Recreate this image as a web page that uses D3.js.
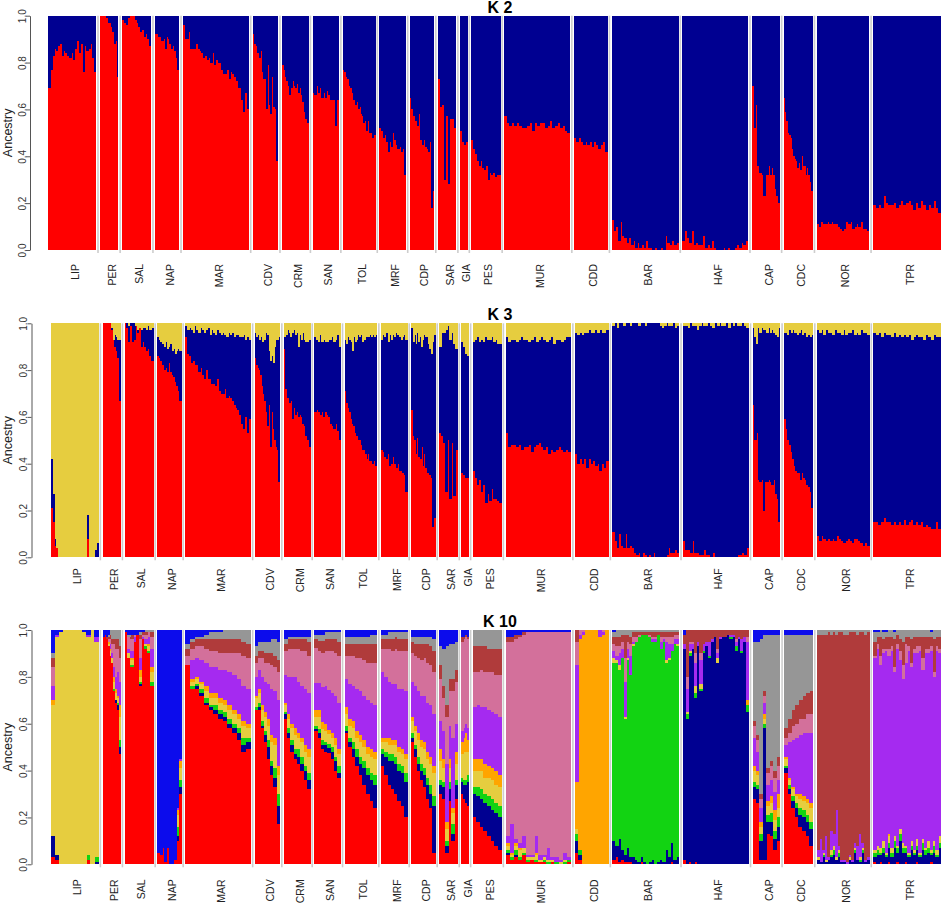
<!DOCTYPE html>
<html>
<head>
<meta charset="utf-8">
<script src="https://d3js.org/d3.v7.min.js"></script>
<style>
body { margin: 0; background: #fff; }
text { font-family: "Liberation Sans", Arial, Helvetica, sans-serif; }
</style>
</head>
<body>
<div id="chart"></div>
<script>
// populations and their sample sizes (number of individuals)
var pops = ["LIP","PER","SAL","NAP","MAR","CDV","CRM","SAN","TOL","MRF","CDP","SAR","GIA","PES","MUR","CDD","BAR","HAF","CAP","CDC","NOR","TPR"];
var popSize = [40,15,24,20,55,21,22,22,27,22,20,15,6,24,55,28,56,55,23,24,44,57];
var yTicks = [0, 0.2, 0.4, 0.6, 0.8, 1];

// K = 2 : share of the red cluster per individual (rest is the dark blue cluster)
var k2Red = [
  [0.69,0.77,0.83,0.86,0.85,0.87,0.88,0.83,0.85,0.84,0.83,0.82,0.84,0.81,0.86,0.89,0.84,0.88,0.76,0.87,0.85,0.86,0.88,0.82,0.76],
  [1,1,1,1,0.99,0.97,0.97,0.95,0.93,0.88,0.89,0.74],
  [0.98,0.97,0.96,0.99,1,1,1,0.98,0.97,0.95,0.93,0.94,0.91,0.92,0.9,0.87],
  [0.92,0.92,0.91,0.91,0.89,0.9,0.86,0.91,0.9,0.88,0.86,0.87,0.85,0.82,0.77],
  [0.96,0.9,0.9,0.93,0.86,0.86,0.86,0.88,0.86,0.85,0.84,0.82,0.83,0.81,0.82,0.8,0.84,0.79,0.81,0.8,0.8,0.77,0.75,0.75,0.77,0.73,0.76,0.75,0.74,0.72,0.69,0.69,0.64,0.59,0.67,0.6],
  [0.92,0.88,0.87,0.84,0.82,0.85,0.76,0.73,0.73,0.6,0.79,0.62,0.58,0.74,0.61,0.6,0.38],
  [0.79,0.77,0.74,0.72,0.7,0.66,0.69,0.72,0.7,0.69,0.71,0.67,0.69,0.66,0.63,0.59,0.56,0.54],
  [0.67,0.66,0.7,0.67,0.69,0.65,0.67,0.65,0.68,0.66,0.64,0.64,0.64,0.53,0.64],
  [0.77,0.76,0.74,0.73,0.7,0.69,0.67,0.64,0.62,0.63,0.6,0.61,0.58,0.57,0.54,0.55,0.51,0.55,0.5,0.5,0.48,0.49],
  [0.52,0.51,0.48,0.49,0.46,0.42,0.46,0.44,0.5,0.47,0.45,0.43,0.44,0.42,0.43,0.32],
  [0.65,0.6,0.57,0.6,0.55,0.53,0.58,0.47,0.52,0.45,0.47,0.44,0.43,0.42,0.46,0.18,0.25],
  [0.73,0.61,0.62,0.3,0.57,0.28,0.56,0.56,0.52],
  [0.51,0.46,0.45,0.46],
  [0.47,0.43,0.41,0.38,0.36,0.38,0.35,0.34,0.36,0.3,0.33,0.32,0.33,0.31,0.32,0.32],
  [0.57,0.54,0.53,0.54,0.53,0.54,0.53,0.52,0.52,0.53,0.54,0.51,0.54,0.53,0.54,0.54,0.52,0.53,0.55,0.52,0.53,0.54,0.52,0.53,0.51,0.5],
  [0.48,0.46,0.48,0.46,0.45,0.46,0.45,0.46,0.44,0.46,0.45,0.43,0.45,0.46,0.42],
  [0.13,0.08,0.1,0.04,0.12,0.06,0.05,0.03,0.05,0.02,0.04,0.01,0.03,0.01,0.02,0.01,0.04,0.01,0.01,0,0.01,0,0,0.01,0,0.06,0.03,0.02,0.04,0.02,0.03],
  [0.04,0.08,0.05,0.03,0.08,0.02,0.03,0.02,0.02,0.06,0.01,0.02,0.01,0.04,0.01,0,0,0,0.01,0,0.01,0,0,0.01,0.02,0.01,0.03,0.02,0.04],
  [0.7,0.52,0.62,0.36,0.33,0.33,0.32,0.23,0.32,0.32,0.36,0.32,0.35,0.32,0.26,0.23,0.2],
  [0.65,0.59,0.55,0.5,0.49,0.48,0.43,0.4,0.39,0.38,0.35,0.37,0.34,0.4,0.36,0.36,0.32,0.35,0.32,0.29,0.25],
  [0.11,0.1,0.12,0.11,0.11,0.12,0.11,0.12,0.11,0.11,0.1,0.09,0.08,0.09,0.12,0.11,0.12,0.09,0.1,0.11,0.1,0.12,0.09,0.09,0.08],
  [0.19,0.18,0.19,0.18,0.23,0.2,0.19,0.19,0.2,0.18,0.19,0.21,0.19,0.2,0.21,0.19,0.17,0.2,0.18,0.21,0.19,0.17,0.19,0.18,0.21,0.18,0.16]
];

// K = 3 : red share, and red + blue (top of the blue part); yellow fills the rest
var k3Red = [
  [0.21,0.15,0.05,0.04,0,0,0,0,0,0,0,0,0,0,0,0,0,0,0,0.08,0,0,0,0,0],
  [1,1,1,1,1,1,0.97,0.93,0.9,0.88,0.85,0.67],
  [1,0.98,0.92,0.99,0.92,0.93,0.99,0.96,0.98,0.9,0.92,0.9,0.88,0.89,0.86,0.84],
  [0.86,0.85,0.84,0.82,0.8,0.81,0.79,0.83,0.79,0.78,0.77,0.75,0.73,0.71,0.67],
  [0.94,0.87,0.86,0.83,0.84,0.82,0.82,0.79,0.81,0.78,0.76,0.8,0.76,0.76,0.74,0.74,0.73,0.76,0.71,0.7,0.7,0.72,0.68,0.69,0.68,0.67,0.65,0.64,0.63,0.61,0.57,0.55,0.6,0.53,0.59],
  [0.85,0.82,0.81,0.8,0.78,0.73,0.7,0.67,0.62,0.56,0.65,0.47,0.62,0.55,0.5,0.47,0.46,0.32],
  [0.89,0.72,0.68,0.66,0.67,0.59,0.64,0.61,0.62,0.6,0.61,0.6,0.57,0.56,0.52,0.5,0.47],
  [0.62,0.63,0.62,0.61,0.62,0.6,0.62,0.61,0.6,0.57,0.56,0.55,0.57,0.54,0.5],
  [0.71,0.66,0.64,0.62,0.59,0.57,0.56,0.53,0.52,0.5,0.5,0.48,0.46,0.46,0.44,0.42,0.44,0.41,0.41,0.4,0.41,0.39],
  [0.46,0.45,0.43,0.42,0.44,0.39,0.4,0.43,0.4,0.38,0.4,0.37,0.37,0.36,0.35,0.28],
  [0.63,0.52,0.5,0.44,0.51,0.43,0.42,0.47,0.39,0.44,0.38,0.36,0.37,0.35,0.34,0.13,0.17],
  [0.53,0.52,0.49,0.28,0.5,0.25,0.49,0.26,0.46],
  [0.36,0.35,0.34,0.34],
  [0.37,0.34,0.31,0.33,0.28,0.31,0.23,0.27,0.24,0.29,0.25,0.25,0.24,0.23],
  [0.53,0.47,0.48,0.48,0.47,0.48,0.46,0.47,0.47,0.48,0.45,0.47,0.48,0.49,0.47,0.46,0.47,0.44,0.46,0.45,0.46,0.47,0.46,0.45,0.46,0.45],
  [0.44,0.4,0.42,0.4,0.42,0.38,0.42,0.4,0.41,0.39,0.4,0.37,0.4,0.38,0.41],
  [0.11,0.07,0.04,0.1,0.05,0.04,0.1,0.04,0.05,0.04,0.02,0.01,0.02,0,0.02,0.01,0,0.01,0,0.02,0,0,0,0,0,0.01,0.04,0.02,0.02,0.03,0.02],
  [0.07,0.03,0.03,0.02,0.07,0.02,0.02,0.01,0.01,0.03,0.01,0.01,0,0.02,0,0,0,0,0,0,0,0,0,0,0.01,0.01,0.02,0.01,0.04],
  [0.65,0.5,0.53,0.33,0.32,0.33,0.2,0.32,0.32,0.33,0.32,0.31,0.33,0.27,0.25,0.15],
  [0.59,0.55,0.5,0.48,0.45,0.42,0.39,0.37,0.36,0.36,0.33,0.36,0.34,0.33,0.31,0.3,0.28,0.21],
  [0.09,0.07,0.09,0.08,0.07,0.08,0.07,0.08,0.07,0.09,0.08,0.07,0.06,0.07,0.08,0.07,0.06,0.08,0.08,0.07,0.06,0.05,0.06,0.05],
  [0.15,0.15,0.14,0.15,0.17,0.15,0.15,0.14,0.15,0.14,0.15,0.14,0.16,0.14,0.15,0.16,0.14,0.15,0.14,0.15,0.13,0.14,0.13,0.12,0.12,0.15,0.12]
];
var k3Top = [
  [0.42,0.27,0.08,0.04,0,0,0,0,0,0,0,0,0,0,0,0,0,0,0,0.18,0,0,0,0.03,0.06],
  [1,1,1,1,1,1,0.98,0.93,0.95,0.94,0.93,0.93],
  [1,1,0.99,1,1,1,0.99,0.97,0.98,0.97,0.98,0.98,0.97,0.99,0.97,0.98],
  [0.94,0.93,0.92,0.91,0.9,0.92,0.89,0.9,0.91,0.88,0.89,0.87,0.88,0.89,0.88],
  [0.99,0.97,0.98,0.97,0.96,0.99,0.97,0.96,0.98,0.97,0.96,0.97,0.98,0.95,0.97,0.96,0.95,0.97,0.96,0.95,0.96,0.95,0.94,0.96,0.95,0.96,0.94,0.95,0.95,0.94,0.94,0.95,0.93,0.94,0.93],
  [0.96,0.94,0.95,0.93,0.94,0.92,0.96,0.93,0.96,0.95,0.88,0.84,0.86,0.83,0.9,0.93,0.93,0.94],
  [0.94,0.95,0.97,0.96,0.94,0.96,0.97,0.95,0.96,0.9,0.95,0.93,0.96,0.93,0.92,0.92,0.93],
  [0.94,0.93,0.92,0.95,0.92,0.93,0.92,0.92,0.93,0.93,0.94,0.92,0.93,0.95,0.9],
  [0.93,0.91,0.94,0.93,0.92,0.88,0.94,0.92,0.93,0.95,0.94,0.95,0.92,0.93,0.94,0.94,0.94,0.95,0.94,0.95,0.94,0.95],
  [0.93,0.95,0.94,0.96,0.92,0.95,0.93,0.95,0.94,0.96,0.95,0.94,0.93,0.94,0.95,0.93],
  [0.98,0.92,0.95,0.91,0.96,0.92,0.94,0.9,0.93,0.95,0.94,0.94,0.91,0.89,0.87,0.92,0.95],
  [0.9,0.96,0.96,0.97,0.99,0.93,0.96,0.91,0.89],
  [0.92,0.9,0.87,0.86],
  [0.92,0.93,0.94,0.92,0.93,0.92,0.94,0.93,0.93,0.94,0.92,0.93,0.91,0.91],
  [0.94,0.92,0.93,0.93,0.92,0.93,0.94,0.93,0.93,0.92,0.93,0.94,0.92,0.93,0.94,0.93,0.92,0.93,0.94,0.91,0.93,0.93,0.92,0.93,0.94,0.94],
  [0.96,0.95,0.96,0.95,0.96,0.96,0.97,0.96,0.96,0.97,0.96,0.97,0.96,0.96,0.97],
  [0.99,1,0.98,1,1,0.99,1,1,0.99,1,1,1,0.99,1,1,0.99,1,1,1,1,1,1,0.99,0.98,0.99,1,0.99,0.99,1,0.98,0.99],
  [0.99,0.99,0.98,1,0.99,0.99,0.97,0.99,1,0.99,0.99,1,0.99,0.98,1,0.99,1,0.99,0.99,1,0.98,1,0.99,1,0.99,0.99,1,0.99,0.98],
  [0.98,0.94,0.91,0.98,0.96,0.98,0.97,0.97,0.96,0.98,0.96,0.97,0.96,0.95,0.94,0.98],
  [0.96,0.96,0.95,0.97,0.96,0.97,0.96,0.96,0.95,0.96,0.97,0.95,0.96,0.96,0.94,0.95,0.94,0.95],
  [0.97,0.96,0.97,0.95,0.97,0.96,0.96,0.95,0.97,0.96,0.96,0.95,0.97,0.95,0.96,0.96,0.97,0.95,0.96,0.95,0.97,0.96,0.96,0.95],
  [0.96,0.95,0.96,0.94,0.96,0.95,0.95,0.94,0.96,0.94,0.95,0.94,0.95,0.94,0.95,0.93,0.94,0.95,0.94,0.94,0.93,0.95,0.94,0.93,0.95,0.94,0.94]
];

// K = 10 : one row per individual, clusters in stacking order (bottom to top)
var k10Keys = ["red","navy","green","yellow","orange","purple","pink","brown","grey","blue"];
var k10Bars = [
  // LIP
  [[0.03,0.09,0,0.56,0.02,0.06,0.08,0.04,0.02,0.1],[0.02,0.02,0,0.93,0,0.01,0,0,0,0.02],[0,0,0,0.99,0,0,0,0,0,0.01],
   [0,0,0,1,0,0,0,0,0,0],[0,0,0,1,0,0,0,0,0,0],[0,0,0,1,0,0,0,0,0,0],[0,0,0,1,0,0,0,0,0,0],[0,0,0,1,0,0,0,0,0,0],
   [0,0,0,0.99,0,0,0,0,0,0.01],[0.02,0,0.02,0.93,0,0.01,0,0,0,0.02],[0,0,0,1,0,0,0,0,0,0],[0,0.01,0.02,0.92,0,0.02,0,0,0,0.03]],
  // PER
  [[0.97,0,0,0,0,0,0,0,0,0.03],[0.98,0,0,0,0,0,0,0,0,0.02],[0.96,0,0,0,0,0,0,0.01,0,0.03],[0.93,0,0,0.01,0.01,0,0.01,0.01,0.01,0.02],
   [0.89,0,0,0.02,0.01,0.02,0.02,0.02,0.02,0],[0.86,0,0,0.02,0,0.02,0.04,0.02,0.04,0],[0.74,0,0.01,0.03,0.02,0.04,0.1,0.02,0.04,0],
   [0.69,0.01,0,0.03,0.02,0.05,0.12,0.04,0.04,0],[0.66,0.02,0.01,0.02,0.01,0.1,0.1,0.04,0.04,0],[0.47,0.03,0.03,0.1,0.05,0.1,0.1,0.05,0.07,0]],
  // SAL
  [[0.99,0,0,0,0,0,0,0,0,0.01],[0.88,0,0,0.02,0,0.02,0.05,0,0.01,0.02],[0.84,0,0.01,0.02,0.01,0.03,0.05,0.02,0,0.02],
   [0.95,0,0,0,0,0.02,0.01,0,0,0.02],[0.98,0,0,0,0,0,0,0,0,0.02],[0.76,0.01,0.01,0.02,0.03,0.05,0.08,0.02,0.01,0.01],
   [0.96,0,0,0,0,0.01,0.01,0.01,0,0.01],[0.92,0,0.01,0.01,0,0.02,0.02,0.01,0.01,0],[0.9,0,0.01,0.02,0.01,0.03,0.02,0,0.01,0],
   [0.76,0,0.02,0.04,0.02,0.08,0.05,0.02,0.01,0]],
  // NAP
  [[0.05,0,0,0,0,0,0,0,0,0.95],[0.04,0,0,0,0,0,0,0,0,0.96],[0.07,0,0,0,0,0,0,0,0,0.93],[0.01,0,0,0,0,0,0,0,0,0.99],
   [0.07,0,0,0,0,0,0,0,0,0.93],[0,0,0,0,0,0,0,0,0,1],[0,0,0,0,0,0,0,0,0,1],[0.02,0,0,0,0,0,0,0,0,0.98],
   [0.1,0.02,0.04,0.05,0.02,0.01,0,0,0,0.76],[0.3,0.03,0.03,0.05,0.03,0.01,0,0,0,0.55]],
  // MAR
  [[0.85,0,0,0,0,0,0.04,0.03,0.02,0.06],[0.75,0,0.01,0.02,0.01,0.08,0.05,0.03,0.01,0.04],[0.75,0.01,0.01,0.02,0.01,0.08,0.05,0.03,0.01,0.03],
   [0.72,0.01,0.02,0.02,0.01,0.09,0.06,0.03,0.01,0.03],[0.68,0.01,0.02,0.03,0.02,0.1,0.06,0.04,0.02,0.02],[0.66,0.01,0.01,0.03,0.02,0.11,0.07,0.05,0.03,0.01],
   [0.64,0.02,0.02,0.03,0.02,0.11,0.07,0.05,0.03,0.01],[0.62,0.02,0.02,0.03,0.02,0.12,0.07,0.06,0.03,0.01],[0.61,0.02,0.02,0.03,0.02,0.13,0.07,0.06,0.04,0],
   [0.58,0.02,0.02,0.04,0.02,0.14,0.08,0.06,0.04,0],[0.56,0.02,0.02,0.04,0.02,0.15,0.09,0.06,0.04,0],[0.53,0.03,0.02,0.04,0.02,0.15,0.11,0.06,0.04,0],
   [0.48,0.03,0.03,0.05,0.02,0.15,0.13,0.06,0.05,0],[0.49,0.03,0.02,0.04,0.02,0.15,0.13,0.06,0.06,0]],
  // CDV
  [[0.66,0,0.01,0.04,0.01,0.08,0.06,0.03,0.04,0.07],[0.66,0.01,0.02,0.04,0.02,0.08,0.05,0.03,0.04,0.05],[0.58,0.01,0.02,0.05,0.02,0.12,0.08,0.03,0.04,0.05],
   [0.52,0.03,0.02,0.06,0.02,0.13,0.08,0.04,0.05,0.05],[0.45,0.05,0.03,0.06,0.03,0.15,0.09,0.04,0.05,0.05],[0.38,0.04,0.02,0.08,0.03,0.2,0.1,0.05,0.06,0.04],
   [0.33,0.04,0.04,0.1,0.03,0.2,0.1,0.05,0.07,0.04],[0.17,0.08,0.05,0.08,0.04,0.28,0.12,0.05,0.08,0.05]],
  // CRM
  [[0.62,0.02,0.01,0.03,0.01,0.12,0.1,0.03,0.02,0.04],[0.54,0.02,0.02,0.04,0.02,0.16,0.12,0.04,0.01,0.03],[0.48,0.03,0.02,0.05,0.02,0.2,0.12,0.04,0.01,0.03],
   [0.45,0.02,0.02,0.06,0.03,0.22,0.12,0.04,0.01,0.03],[0.43,0.03,0.03,0.05,0.02,0.22,0.14,0.04,0.01,0.03],[0.4,0.03,0.03,0.06,0.02,0.22,0.15,0.05,0.01,0.03],
   [0.36,0.04,0.02,0.06,0.03,0.24,0.16,0.05,0.01,0.03],[0.32,0.04,0.03,0.07,0.03,0.24,0.16,0.06,0.02,0.03]],
  // SAN
  [[0.58,0.01,0.01,0.04,0.03,0.12,0.15,0.04,0.02,0.02],[0.55,0.02,0.02,0.05,0.03,0.12,0.14,0.04,0.03,0.02],[0.5,0.02,0.02,0.05,0.03,0.15,0.15,0.05,0.03,0.02],
   [0.48,0.03,0.01,0.05,0.03,0.16,0.15,0.05,0.03,0.01],[0.48,0.02,0.02,0.04,0.02,0.17,0.17,0.05,0.03,0.01],[0.45,0.03,0.02,0.04,0.02,0.17,0.18,0.05,0.03,0.01],
   [0.4,0.04,0.02,0.05,0.03,0.18,0.18,0.06,0.03,0.01],[0.37,0.02,0.03,0.05,0.02,0.2,0.2,0.06,0.04,0.01]],
  // TOL
  [[0.56,0.01,0.02,0.05,0.03,0.12,0.1,0.05,0.03,0.03],[0.5,0.02,0.02,0.05,0.03,0.15,0.12,0.05,0.03,0.03],[0.46,0.03,0.03,0.06,0.03,0.15,0.13,0.05,0.03,0.03],
   [0.42,0.04,0.03,0.05,0.03,0.18,0.13,0.06,0.03,0.03],[0.38,0.05,0.03,0.06,0.03,0.19,0.14,0.06,0.03,0.03],[0.34,0.07,0.03,0.06,0.03,0.19,0.15,0.07,0.03,0.03],
   [0.3,0.08,0.03,0.06,0.03,0.2,0.16,0.08,0.03,0.03],[0.27,0.09,0.03,0.07,0.03,0.2,0.17,0.08,0.04,0.02],[0.24,0.1,0.04,0.07,0.03,0.2,0.18,0.08,0.04,0.02]],
  // MRF
  [[0.42,0.05,0.02,0.03,0.02,0.28,0.1,0.04,0.02,0.02],[0.38,0.08,0.02,0.04,0.02,0.26,0.12,0.04,0.02,0.02],[0.34,0.1,0.03,0.04,0.03,0.24,0.14,0.04,0.03,0.01],
   [0.32,0.12,0.03,0.04,0.02,0.24,0.14,0.05,0.03,0.01],[0.3,0.13,0.03,0.05,0.02,0.24,0.15,0.05,0.02,0.01],[0.27,0.13,0.03,0.05,0.02,0.25,0.16,0.05,0.03,0.01],
   [0.25,0.14,0.03,0.05,0.02,0.26,0.16,0.05,0.03,0.01],[0.2,0.15,0.04,0.06,0.02,0.27,0.17,0.05,0.03,0.01]],
  // CDP
  [[0.52,0.02,0.02,0.05,0.02,0.15,0.12,0.05,0.02,0.03],[0.46,0.03,0.02,0.06,0.02,0.17,0.13,0.05,0.03,0.03],[0.4,0.03,0.03,0.07,0.03,0.18,0.14,0.06,0.03,0.03],
   [0.36,0.04,0.03,0.07,0.03,0.19,0.15,0.07,0.03,0.03],[0.33,0.05,0.03,0.08,0.03,0.2,0.16,0.06,0.03,0.03],[0.28,0.06,0.03,0.08,0.03,0.21,0.17,0.08,0.03,0.03],
   [0.24,0.06,0.04,0.09,0.03,0.22,0.17,0.08,0.04,0.03],[0.05,0.2,0.04,0.1,0.03,0.22,0.18,0.09,0.05,0.04]],
  // SAR
  [[0.3,0.04,0.02,0.08,0.05,0.12,0.18,0.06,0.08,0.07],[0.28,0.05,0.02,0.06,0.04,0.12,0.14,0.05,0.16,0.08],[0.05,0.03,0.02,0.05,0.03,0.25,0.2,0.05,0.25,0.07],
   [0.27,0.05,0.03,0.06,0.04,0.14,0.15,0.05,0.15,0.06],[0.1,0.03,0.04,0.05,0.02,0.3,0.2,0.05,0.15,0.06],[0.28,0.06,0.02,0.07,0.05,0.12,0.18,0.05,0.12,0.05]],
  // GIA
  [[0.3,0.05,0.02,0.1,0.05,0.05,0.38,0.02,0,0.03],[0.28,0.06,0.02,0.12,0.06,0.04,0.38,0.01,0,0.03],[0.26,0.08,0.02,0.12,0.08,0.04,0.37,0.01,0,0.02],
   [0.25,0.1,0.03,0.1,0.05,0.05,0.38,0.01,0,0.03]],
  // PES
  [[0.2,0.1,0.03,0.07,0.05,0.22,0.15,0.11,0.07,0],[0.18,0.11,0.04,0.07,0.05,0.23,0.14,0.11,0.07,0],[0.16,0.12,0.04,0.08,0.05,0.22,0.16,0.1,0.07,0],
   [0.14,0.12,0.04,0.07,0.06,0.24,0.15,0.11,0.07,0],[0.12,0.13,0.04,0.08,0.05,0.24,0.16,0.1,0.08,0],[0.1,0.13,0.05,0.08,0.05,0.24,0.17,0.1,0.08,0],
   [0.08,0.14,0.04,0.08,0.06,0.24,0.17,0.11,0.08,0],[0.06,0.14,0.05,0.08,0.05,0.25,0.18,0.11,0.08,0]],
  // MUR
  [[0.04,0.01,0.01,0.02,0.01,0.03,0.83,0.02,0,0.03],[0.02,0,0.01,0.01,0.01,0.12,0.78,0.02,0,0.03],[0.03,0.01,0.02,0.02,0.01,0.02,0.85,0.02,0,0.02],
   [0.02,0,0.01,0.03,0.01,0.02,0.88,0.01,0,0.02],[0.04,0,0.01,0.02,0,0.05,0.86,0.01,0,0.01],[0.01,0,0.01,0.01,0,0.01,0.95,0,0,0.01],
   [0.02,0,0,0.01,0,0.01,0.95,0,0,0.01],[0.01,0,0.01,0.02,0.01,0.07,0.87,0,0,0.01],[0.01,0,0,0.01,0,0.02,0.95,0,0,0.01],
   [0.01,0,0.01,0.01,0,0.01,0.95,0,0,0.01],[0,0,0.01,0.01,0,0.05,0.92,0,0,0.01],[0.01,0,0,0.01,0,0.01,0.96,0,0,0.01],
   [0,0,0.01,0,0,0.02,0.96,0,0,0.01],[0,0,0,0.01,0,0.01,0.97,0,0,0.01],[0,0,0.01,0.01,0,0.03,0.94,0,0,0.01],[0.01,0,0.01,0,0,0.01,0.96,0,0,0.01]],
  // CDD
  [[0.05,0.05,0.03,0.02,0.2,0.5,0.1,0.05,0,0],[0.02,0.02,0.02,0,0.9,0.02,0.02,0,0,0],[0,0,0,0,0.98,0.01,0.01,0,0,0],
   [0,0,0,0,1,0,0,0,0,0],[0,0,0,0,1,0,0,0,0,0],[0,0,0,0,1,0,0,0,0,0],[0,0,0,0,1,0,0,0,0,0],[0,0,0,0,0.97,0.03,0,0,0,0],
   [0,0,0,0,0.98,0.01,0.01,0,0,0],[0,0,0,0,1,0,0,0,0,0]],
  // BAR
  [[0.02,0.08,0.76,0.02,0,0.03,0.03,0.03,0.02,0.01],[0.03,0.05,0.78,0.01,0,0.02,0.04,0.04,0.03,0],[0.01,0.1,0.72,0.02,0,0.05,0.03,0.04,0.03,0],
   [0.02,0.04,0.82,0,0,0.04,0.03,0.03,0.02,0],[0.01,0.03,0.58,0.01,0,0.15,0.1,0.1,0.02,0],[0.01,0.06,0.8,0.01,0,0.04,0.03,0.03,0.02,0],
   [0.01,0.02,0.78,0,0,0.08,0.05,0.03,0.03,0],[0,0.03,0.9,0.01,0,0.01,0.02,0.02,0.01,0],[0,0.02,0.93,0,0,0,0.02,0.02,0.01,0],
   [0,0.01,0.96,0,0,0,0.01,0.01,0.01,0],[0.01,0.02,0.95,0,0,0,0,0.01,0.01,0],[0,0.01,0.97,0,0,0,0,0.01,0.01,0],
   [0,0,0.98,0,0,0,0,0.01,0.01,0],[0,0.01,0.96,0,0,0,0.01,0.01,0.01,0],[0,0.02,0.93,0,0,0.01,0.01,0.02,0.01,0],
   [0,0,0.95,0,0,0.01,0.01,0.02,0.01,0],[0,0.01,0.97,0,0,0,0,0.01,0.01,0],[0,0.02,0.9,0,0,0.03,0.02,0.02,0.01,0],
   [0,0.01,0.94,0,0,0.01,0.01,0.02,0.01,0],[0,0.06,0.8,0.01,0,0.08,0.02,0.02,0.01,0],[0,0.03,0.84,0.01,0,0.06,0.03,0.02,0.01,0],
   [0.01,0.08,0.82,0,0,0.03,0.03,0.02,0.01,0],[0,0.02,0.92,0,0,0.02,0.02,0.01,0.01,0],[0,0.03,0.9,0.01,0,0.02,0.02,0.01,0.01,0]],
  // HAF
  [[0.02,0.9,0,0,0,0.02,0,0.04,0,0.02],[0,0.62,0.02,0.01,0,0.1,0.05,0.2,0,0],[0.01,0.88,0.01,0.01,0,0.03,0.01,0.05,0,0],
   [0,0.92,0,0,0,0.02,0.01,0.05,0,0],[0.01,0.7,0.02,0.03,0,0.1,0.04,0.1,0,0],[0,0.93,0,0,0,0.02,0,0.05,0,0],
   [0,0.74,0.01,0.02,0,0.1,0.03,0.1,0,0],[0,0.9,0.01,0,0,0.03,0,0.06,0,0],[0,0.93,0,0,0,0.02,0,0.05,0,0],
   [0,0.88,0.01,0,0,0.06,0,0.05,0,0],[0,0.95,0,0,0,0.01,0,0.04,0,0],[0,0.97,0,0,0,0,0,0.03,0,0],
   [0,0.86,0,0.02,0,0.02,0.02,0.08,0,0],[0,0.96,0,0,0,0.01,0,0.03,0,0],[0,0.97,0,0,0,0,0,0.03,0,0],
   [0,0.97,0,0,0,0,0,0.03,0,0],[0,0.98,0,0,0,0,0,0.02,0,0],[0,0.96,0.01,0,0,0.01,0,0.02,0,0],
   [0,0.97,0,0,0,0.01,0,0.02,0,0],[0,0.91,0.02,0,0,0.02,0.01,0.04,0,0],[0,0.96,0,0,0,0.01,0,0.03,0,0],
   [0,0.9,0.01,0,0,0.05,0,0.04,0,0],[0,0.95,0,0,0,0.02,0,0.03,0,0],[0,0.65,0.03,0,0.02,0.25,0.02,0.03,0,0]],
  // CAP
  [[0.28,0.05,0.02,0.05,0.02,0.12,0.05,0.02,0.34,0.05],[0.26,0.06,0.02,0.04,0.02,0.08,0.05,0.02,0.4,0.05],[0.02,0.08,0.03,0.03,0.02,0.06,0.04,0.02,0.66,0.04],
   [0.02,0.56,0.02,0.02,0.02,0.05,0.03,0.02,0.24,0.02],[0.13,0.05,0.03,0.04,0.02,0.07,0.05,0.02,0.57,0.02],[0.12,0.06,0.04,0.04,0.03,0.07,0.06,0.02,0.54,0.02],
   [0.06,0.05,0.03,0.05,0.04,0.08,0.06,0.03,0.58,0.02],[0.1,0.06,0.04,0.04,0.06,0.06,0.06,0.04,0.52,0.02]],
  // CDC
  [[0.39,0.02,0.01,0.03,0.01,0.05,0.03,0.04,0.4,0.02],[0.3,0.02,0.02,0.02,0.01,0.15,0.04,0.06,0.36,0.02],[0.24,0.03,0.02,0.03,0.01,0.2,0.06,0.07,0.32,0.02],
   [0.2,0.04,0.02,0.03,0.01,0.24,0.06,0.08,0.3,0.02],[0.16,0.05,0.03,0.04,0.02,0.25,0.07,0.08,0.28,0.02],[0.14,0.06,0.03,0.04,0.02,0.27,0.06,0.1,0.26,0.02],
   [0.12,0.06,0.03,0.05,0.02,0.28,0.08,0.09,0.25,0.02],[0.08,0.07,0.03,0.06,0.02,0.3,0.08,0.1,0.24,0.02]],
  // NOR
  [[0,0.02,0,0.01,0,0.03,0,0.92,0.02,0],[0,0.01,0,0,0,0.1,0,0.87,0.02,0],[0,0.03,0.01,0.01,0,0.01,0,0.92,0.02,0],
   [0,0.01,0,0.01,0,0.1,0,0.86,0.02,0],[0,0.02,0,0,0,0.01,0,0.96,0.01,0],[0,0.03,0.01,0.02,0,0.08,0,0.84,0.02,0],
   [0,0.04,0.02,0.02,0,0.05,0,0.86,0.01,0],[0,0.02,0,0.01,0,0.2,0,0.75,0.02,0],[0,0.03,0.02,0.01,0,0.02,0,0.91,0.01,0],
   [0,0.01,0,0,0,0.01,0,0.97,0.01,0],[0,0.01,0,0,0,0.01,0,0.96,0.02,0],[0,0,0,0,0,0.01,0,0.97,0.02,0],
   [0,0.02,0,0.01,0,0.01,0,0.95,0.01,0],[0,0.01,0,0,0,0.01,0,0.97,0.01,0],[0,0.05,0.01,0.01,0,0.02,0,0.9,0.01,0],
   [0,0.02,0,0,0,0.06,0,0.9,0.02,0],[0,0.01,0.01,0.01,0,0.1,0,0.86,0.01,0],[0,0.05,0.01,0.01,0,0.02,0,0.9,0.01,0],
   [0,0.01,0,0,0,0.01,0,0.96,0.02,0],[0,0.02,0,0,0,0.01,0,0.96,0.01,0]],
  // TPR
  [[0.01,0.02,0.02,0.01,0,0.82,0.01,0.06,0.04,0.01],[0,0.04,0.02,0.02,0,0.84,0.02,0.03,0.02,0.01],[0.01,0.03,0.01,0.02,0,0.78,0.04,0.08,0.03,0],
   [0,0.05,0.02,0.03,0,0.8,0.02,0.04,0.03,0.01],[0,0.03,0.01,0.01,0,0.86,0.01,0.05,0.02,0.01],[0.01,0.06,0.02,0.03,0.01,0.76,0.03,0.05,0.03,0],
   [0,0.03,0.02,0.02,0,0.84,0.02,0.04,0.03,0],[0,0.07,0.03,0.02,0,0.7,0.02,0.12,0.03,0.01],[0.01,0.04,0.02,0.01,0,0.84,0.02,0.04,0.02,0],
   [0,0.1,0.03,0.02,0,0.72,0.04,0.05,0.04,0],[0,0.05,0.02,0.02,0,0.7,0.06,0.1,0.05,0],[0.01,0.04,0.02,0.01,0,0.78,0.08,0.03,0.03,0],
   [0,0.03,0.01,0.01,0,0.86,0.02,0.04,0.03,0],[0,0.06,0.02,0.02,0,0.74,0.02,0.1,0.04,0],[0,0.04,0.01,0.01,0,0.84,0.02,0.05,0.03,0],
   [0.01,0.05,0.02,0.03,0,0.79,0.03,0.04,0.03,0],[0,0.03,0.01,0.01,0,0.86,0.02,0.04,0.03,0],[0,0.06,0.03,0.02,0,0.72,0.05,0.09,0.03,0],
   [0,0.04,0.02,0.01,0,0.83,0.02,0.05,0.03,0],[0,0.05,0.02,0.03,0,0.8,0.02,0.05,0.03,0],[0.01,0.03,0.01,0.01,0,0.85,0.02,0.04,0.02,0.01],
   [0,0.05,0.03,0.02,0,0.7,0.02,0.14,0.04,0],[0,0.03,0.01,0.02,0,0.85,0.02,0.04,0.03,0],[0,0.07,0.02,0.03,0,0.78,0.02,0.05,0.03,0]]
];

var colors = {
  red: "#ff0000", navy: "#000091", green: "#12d312", yellow: "#e6cd3f", orange: "#ffa500",
  purple: "#a52af0", pink: "#d3709b", brown: "#b03b3b", grey: "#969696", blue: "#0c0cec"
};

// build per-panel rows from the arrays above
var k2Rows = k2Red.map(function(p) {
  return p.map(function(r) { return {red: r, navy: 1 - r}; });
});
var k3Rows = k3Red.map(function(p, i) {
  return p.map(function(r, j) {
    var t = k3Top[i][j] == null ? 1 : k3Top[i][j];
    return {red: r, navy: Math.max(0, t - r), yellow: Math.max(0, 1 - Math.max(t, r))};
  });
});
var k10Rows = k10Bars.map(function(p) {
  return p.map(function(b) {
    var s = d3.sum(b), o = {};
    k10Keys.forEach(function(k, i) { o[k] = b[i] / s; });
    return o;
  });
});

// layout of the three panels
var panels = [
  {title: "K 2",  rows: k2Rows,  keys: ["red","navy"],          top: 15.7,  bottom: 250,   left: 48.3, axisX: 30,   labGap: 14, titleY: 12.7},
  {title: "K 3",  rows: k3Rows,  keys: ["red","navy","yellow"], top: 323.3, bottom: 557.3, left: 50.8, axisX: 31.5, labGap: 11, titleY: 320},
  {title: "K 10", rows: k10Rows, keys: k10Keys,                 top: 630,   bottom: 864.3, left: 50.8, axisX: 31.5, labGap: 15, titleY: 626.7}
];
var gap = 3.6;
var plotRight = 941;

var svg = d3.select("#chart")
  .append("svg")
    .attr("width", 941)
    .attr("height", 903);

panels.forEach(function(p) {
  var units = d3.sum(popSize) + gap * (pops.length - 1);
  var x = d3.scaleLinear().domain([0, units]).range([p.left, plotRight]);
  var y = d3.scaleLinear().domain([0, 1]).range([p.bottom, p.top]);
  var g = svg.append("g");

  var start = 0;
  pops.forEach(function(name, i) {
    var x0 = x(start), x1 = x(start + popSize[i]);
    var rows = p.rows[i];
    var band = d3.scaleBand().domain(d3.range(rows.length)).range([x0, x1]);
    var series = d3.stack().keys(p.keys)(rows);

    g.append("g")
      .selectAll("g")
      .data(series)
      .join("g")
        .attr("fill", function(s) { return colors[s.key]; })
      .selectAll("rect")
      .data(function(s) { return s; })
      .join("rect")
        .attr("x", function(d, j) { return band(j); })
        .attr("width", band.bandwidth() + 0.5)
        .attr("y", function(d) { return y(Math.min(1, d[1])); })
        .attr("height", function(d) { return Math.max(0, y(d[0]) - y(Math.min(1, d[1]))); })
        .attr("shape-rendering", "crispEdges");

    // population label under the block
    var cx = (x0 + x1) / 2 + 3;
    svg.append("text")
      .attr("transform", "translate(" + cx + "," + (p.bottom + p.labGap) + ") rotate(-90)")
      .attr("text-anchor", "end")
      .attr("dy", "0.35em")
      .attr("font-size", 10.5)
      .attr("fill", "#222")
      .text(name);

    // grey separator between populations
    if (i < pops.length - 1) {
      var sx = x(start + popSize[i] + gap / 2);
      svg.append("line")
        .attr("x1", sx).attr("x2", sx)
        .attr("y1", p.top).attr("y2", p.bottom + 3)
        .attr("stroke", "#cdcdcd")
        .attr("stroke-width", 1.6);
    }
    start += popSize[i] + gap;
  });

  // y axis
  var ax = svg.append("g")
    .attr("transform", "translate(" + p.axisX + ",0)")
    .call(d3.axisLeft(y).tickValues(yTicks).tickFormat(d3.format(".1f")).tickSize(4).tickSizeOuter(0));
  ax.select(".domain").attr("stroke", "#555");
  ax.selectAll(".tick line").attr("stroke", "#555");
  ax.selectAll(".tick text")
    .attr("x", 0)
    .attr("y", -4.5)
    .attr("dy", 0)
    .attr("transform", "rotate(-90)")
    .attr("text-anchor", "middle")
    .attr("font-size", 10)
    .attr("font-family", "Liberation Sans, Arial, sans-serif")
    .attr("fill", "#333");

  svg.append("text")
    .attr("transform", "translate(12," + ((p.top + p.bottom) / 2) + ") rotate(-90)")
    .attr("text-anchor", "middle")
    .attr("font-size", 12.5)
    .attr("fill", "#222")
    .text("Ancestry");

  svg.append("text")
    .attr("x", 500)
    .attr("y", p.titleY)
    .attr("text-anchor", "middle")
    .attr("font-size", 16)
    .attr("font-weight", "bold")
    .attr("fill", "#000")
    .text(p.title);
});
</script>
</body>
</html>
